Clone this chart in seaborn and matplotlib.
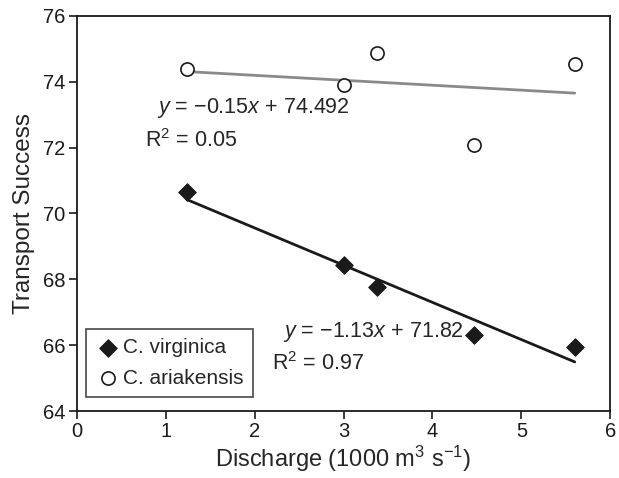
import numpy as np
import pandas as pd
import matplotlib.pyplot as plt
import seaborn as sns

# values
discharge = [1.24, 3.0, 3.38, 4.47, 5.6]
virginica = [70.64, 68.42, 67.77, 66.32, 65.95]
ariakensis = [74.38, 73.90, 74.87, 72.07, 74.54]

# fitted lines as printed on the chart
fit_virginica = (-1.13, 71.82)
fit_ariakensis = (-0.15, 74.492)

sns.set_style("ticks")
plt.rcParams['font.family'] = ['Liberation Sans', 'DejaVu Sans']
plt.rcParams['mathtext.fontset'] = 'custom'
plt.rcParams['mathtext.rm'] = 'Liberation Sans'
plt.rcParams['mathtext.it'] = 'Liberation Sans:italic'

df = pd.DataFrame({
    "Discharge": discharge * 2,
    "Transport": virginica + ariakensis,
    "Species": ["C. virginica"] * 5 + ["C. ariakensis"] * 5,
})

fig = plt.figure(figsize=(6.19, 4.78), dpi=100)
ax = fig.add_axes([0.124, 0.14, 0.862, 0.827])

# regression lines
xs = np.array([min(discharge), max(discharge)])
sns.lineplot(x=xs, y=fit_ariakensis[0] * xs + fit_ariakensis[1], ax=ax,
             color="#8a8a8a", linewidth=2, zorder=2)
sns.lineplot(x=xs, y=fit_virginica[0] * xs + fit_virginica[1], ax=ax,
             color="#1a1a1a", linewidth=2, zorder=2)

vir = df[df.Species == "C. virginica"]
ari = df[df.Species == "C. ariakensis"]
sns.scatterplot(data=vir, x="Discharge", y="Transport", ax=ax, marker="D",
                s=80, color="#1a1a1a", edgecolor="#1a1a1a", zorder=3,
                label="C. virginica")
sns.scatterplot(data=ari, x="Discharge", y="Transport", ax=ax, marker="o",
                s=90, facecolor="white", edgecolor="#1a1a1a", linewidth=1.2,
                zorder=3, label="C. ariakensis")

ax.set_xlim(0, 6)
ax.set_ylim(64, 76)
ax.set_xticks(range(0, 7))
ax.set_yticks(range(64, 77, 2))
ax.tick_params(direction="out", length=6, width=1.2, labelsize=14.5,
               colors="#1a1a1a", pad=2)
for s in ax.spines.values():
    s.set_linewidth(1.3)
    s.set_color("#1a1a1a")

ax.set_xlabel("Discharge (1000 m$^{3}$ s$^{\u22121}$)", fontsize=17, labelpad=2)
ax.set_ylabel("Transport Success", fontsize=17.5, labelpad=6)

ax.text(0.9, 73.2, "$y$ = \u22120.15$x$ + 74.492", fontsize=15.5, va="center")
ax.text(0.77, 72.22, "R$^{2}$ = 0.05", fontsize=15.5, va="center")
ax.text(2.32, 66.4, "$y$ = \u22121.13$x$ + 71.82", fontsize=15.5, va="center")
ax.text(2.19, 65.45, "R$^{2}$ = 0.97", fontsize=15.5, va="center")

leg = ax.legend(loc="lower left", bbox_to_anchor=(0.018, 0.035), fontsize=15,
                frameon=True, fancybox=False, edgecolor="#1a1a1a",
                handletextpad=0.1, borderpad=0.45, handlelength=1.2,
                labelspacing=0.55, borderaxespad=0)
leg.get_frame().set_linewidth(1.2)

fig.savefig("out.png", dpi=100)
